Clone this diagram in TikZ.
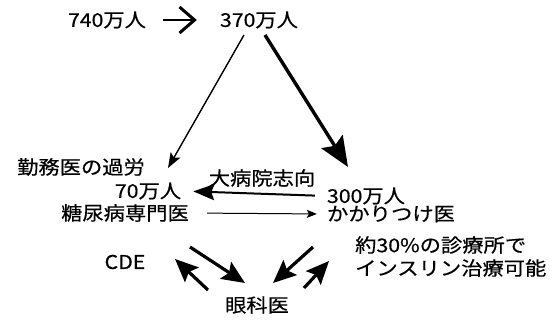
\documentclass[tikz,border=0pt]{standalone}
\usepackage{fontspec}
\setmainfont{Noto Sans CJK JP}[FakeStretch=1.12,FakeBold=0.5]
\usetikzlibrary{arrows.meta,calc}
\tikzset{
  lbl/.style={inner sep=0pt, font=\fontsize{19}{22}\selectfont},
  thinarr/.style={line width=1.4pt, arrows={-Stealth[length=15pt,width=11pt,inset=3pt]}},
  bigarr/.style={line width=3.4pt, arrows={-Stealth[length=30pt,width=25pt,inset=5pt]}},
  midarr/.style={line width=2pt, arrows={-Stealth[length=21pt,width=16pt,inset=3pt]}},
  botarr/.style={line width=3.2pt, arrows={-Stealth[length=23pt,width=20pt,inset=4pt]}},
  smallarr/.style={line width=1pt, arrows={-Stealth[length=10pt,width=8pt,inset=2pt]}},
  chev/.style={line width=2.2pt, arrows={-Straight Barb[length=15pt,width=26pt,line width=3pt]}}
}
\begin{document}
\begin{tikzpicture}[x=1pt,y=-1pt]
\useasboundingbox (0,0) rectangle (552,322);
\node[lbl] (n740) at (107,20) {740万人};
\node[lbl] (n370) at (259,20) {370万人};
\node[lbl] (nkin) at (81,167) {勤務医の過労};
\node[lbl] (ndai) at (262,178) {大病院志向};
\node[lbl] (n70) at (148,191) {70万人};
\node[lbl] (n300) at (366,196) {300万人};
\node[lbl] (ntou) at (125,213) {糖尿病専門医};
\node[lbl] (nkak) at (391,214) {かかりつけ医};
\node[lbl,anchor=west] (n30) at (355,245) {約30\%の診療所で};
\node[lbl,anchor=west] (nins) at (355,268) {インスリン治療可能};
\node[lbl] (ncde) at (125,262) {CDE};
\node[lbl] (ngan) at (257,305) {眼科医};

\draw[chev, shorten <=17pt, shorten >=23pt] (n740.east) -- (n370.west);
\draw[thinarr] ($(n370)+(-15,15)$) -- ($(n70)+(20,-23)$);
\draw[bigarr] ($(n370)+(6,15)$) -- ($(n300)+(-18,-29)$);
\draw[midarr, shorten <=12pt, shorten >=12pt] (n300.west) -- (n70.east);
\draw[smallarr, shorten <=18pt, shorten >=10pt] (ntou.east) -- (nkak.west);
\draw[botarr] ($(ngan)+(-49,-15)$) -- ($(ncde)+(50,-3)$);
\draw[botarr] ($(ntou)+(65,34)$) -- ($(ngan)+(-12,-22)$);
\draw[botarr] ($(nkak)+(-78,33)$) -- ($(ngan)+(16,-22)$);
\draw[botarr] ($(ngan)+(47,-17)$) -- ($(n30.west)+(-26,16)$);
\end{tikzpicture}
\end{document}
